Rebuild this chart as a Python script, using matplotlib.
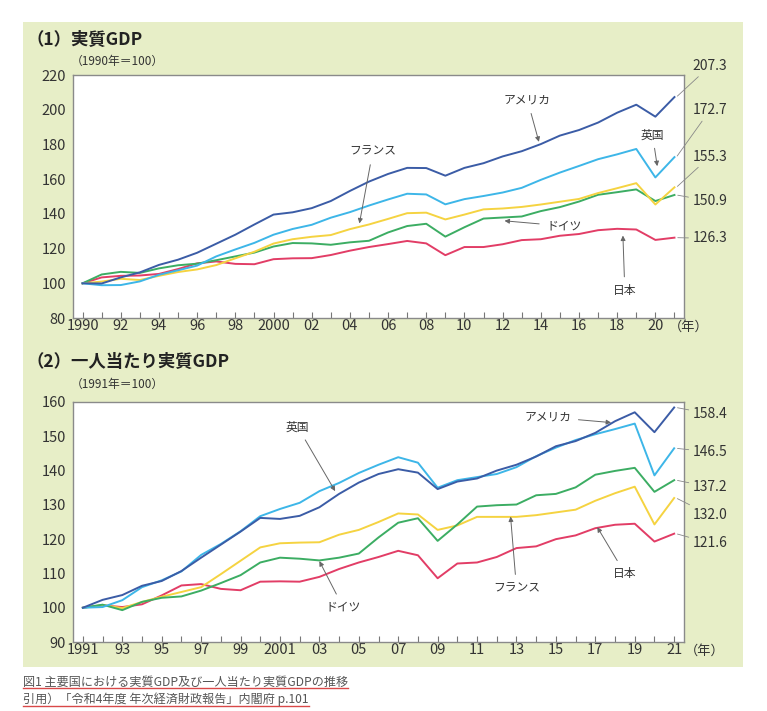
import numpy as np
import matplotlib
matplotlib.use("Agg")
from matplotlib import pyplot as plt
from matplotlib.patches import Rectangle
from matplotlib.lines import Line2D
import matplotlib.transforms as mtransforms

plt.rcParams['font.family'] = ['Noto Sans CJK JP', 'DejaVu Sans']

# (1) real GDP, 1990 = 100
years1 = list(range(1990, 2022))
usa1 = [100, 99.9, 103.4, 106.3, 110.6, 113.6, 117.6, 122.8, 128.0, 133.9, 139.6, 140.9,
        143.3, 147.4, 153.2, 158.6, 163.0, 166.5, 166.4, 162.0, 166.5, 169.2, 173.1, 176.1,
        180.2, 185.1, 188.3, 192.6, 198.3, 202.9, 196.0, 207.3]
uk1 = [100, 98.9, 99.0, 101.1, 104.9, 107.5, 110.2, 115.5, 119.5, 123.3, 128.0, 131.3,
       133.7, 137.8, 141.0, 144.8, 148.3, 151.6, 151.2, 145.5, 148.5, 150.3, 152.3, 155.0,
       159.6, 163.8, 167.6, 171.5, 174.3, 177.4, 161.0, 172.7]
fra1 = [100, 101.0, 102.6, 101.9, 104.3, 106.5, 108.0, 110.5, 114.4, 118.2, 122.9, 125.4,
        126.8, 127.8, 131.2, 133.9, 137.1, 140.4, 140.7, 136.8, 139.6, 142.6, 143.1, 144.0,
        145.4, 147.0, 148.6, 152.0, 154.8, 157.7, 145.4, 155.3]
ger1 = [100, 105.1, 106.6, 106.0, 108.6, 110.4, 111.3, 113.3, 115.5, 117.7, 121.2, 123.2,
        123.0, 122.2, 123.6, 124.5, 129.3, 133.0, 134.3, 126.9, 132.3, 137.3, 137.9, 138.5,
        141.6, 143.9, 147.1, 151.0, 152.5, 154.1, 147.4, 150.9]
jpn1 = [100, 103.4, 104.3, 104.5, 105.4, 108.2, 111.5, 112.6, 111.2, 111.0, 113.9, 114.4,
        114.5, 116.3, 118.8, 120.9, 122.6, 124.4, 123.0, 116.2, 120.9, 120.9, 122.5, 124.9,
        125.4, 127.4, 128.4, 130.6, 131.4, 131.0, 125.0, 126.3]
xlab1 = ['1990', '92', '94', '96', '98', '2000', '02', '04', '06', '08', '10', '12',
         '14', '16', '18', '20']

# (2) real GDP per capita, 1991 = 100
years2 = list(range(1991, 2022))
usa2 = [100, 102.3, 103.7, 106.4, 107.8, 110.7, 114.6, 118.4, 122.2, 126.2, 125.9, 126.8,
        129.3, 133.2, 136.5, 139.0, 140.4, 139.4, 134.6, 136.8, 137.7, 140.0, 141.7, 144.1,
        147.1, 148.6, 151.0, 154.4, 157.0, 151.2, 158.4]
uk2 = [100, 100.2, 102.2, 106.0, 108.0, 110.6, 115.4, 118.6, 122.3, 126.7, 128.8, 130.6,
       134.0, 136.4, 139.3, 141.7, 143.9, 142.3, 135.0, 137.2, 138.1, 139.0, 141.0, 144.2,
       146.7, 148.9, 150.6, 152.1, 153.7, 138.6, 146.5]
fra2 = [100, 100.8, 99.9, 101.7, 103.2, 104.6, 106.0, 109.8, 113.7, 117.6, 118.8, 119.0,
        119.1, 121.3, 122.7, 125.0, 127.5, 127.2, 122.7, 124.0, 126.5, 126.5, 126.5, 127.0,
        127.8, 128.6, 131.2, 133.4, 135.3, 124.3, 132.0]
ger2 = [100, 100.9, 99.3, 101.7, 102.9, 103.3, 105.0, 107.2, 109.5, 113.2, 114.6, 114.3,
        113.8, 114.6, 115.8, 120.5, 124.8, 126.1, 119.5, 124.3, 129.5, 129.9, 130.1, 132.8,
        133.2, 135.1, 138.8, 139.9, 140.8, 133.8, 137.2]
jpn2 = [100, 100.7, 100.2, 101.0, 103.6, 106.5, 106.9, 105.5, 105.1, 107.6, 107.7, 107.6,
        109.0, 111.3, 113.2, 114.8, 116.6, 115.3, 108.6, 112.9, 113.2, 114.8, 117.4, 117.9,
        120.0, 121.1, 123.2, 124.2, 124.5, 119.3, 121.6]
xlab2 = ['1991', '93', '95', '97', '99', '2001', '03', '05', '07', '09', '11', '13',
         '15', '17', '19', '21']

c_usa = '#3b5ca6'
c_uk = '#3db6e8'
c_fra = '#f5d341'
c_ger = '#3cad63'
c_jpn = '#e23d66'
txt = '#333333'
grey = '#777777'

fig = plt.figure(figsize=(7.67, 7.11), dpi=100)
fig.patches.append(Rectangle((0.030, 0.062), 0.9387, 0.9072, transform=fig.transFigure,
                             facecolor='#e7eec7', edgecolor='none', zorder=-10))

ax1 = fig.add_axes([0.0952, 0.5527, 0.7966, 0.3418])
ax2 = fig.add_axes([0.0952, 0.0970, 0.7966, 0.3376])


def style(ax, years, labels, ylim, step):
    ax.set_xlim(years[0] - 0.5, years[-1] + 0.5)
    ax.set_ylim(*ylim)
    ax.set_xticks(years)
    shown = []
    for i, y in enumerate(years):
        shown.append(labels[i // 2] if i % 2 == 0 else '')
    ax.set_xticklabels(shown)
    ax.set_yticks(np.arange(ylim[0], ylim[1] + 1, step))
    ax.tick_params(axis='x', direction='in', length=4, color=grey, labelsize=10.5,
                   labelcolor=txt, pad=1)
    ax.tick_params(axis='y', length=0, labelsize=10.5, labelcolor=txt, pad=5)
    for s in ax.spines.values():
        s.set_color('#8a8a8a')
        s.set_linewidth(1.0)


def endlabel(ax, x, val, ytext, xtext):
    ax.annotate(f'{val:.1f}', xy=(x + 0.1, val), xytext=(xtext, ytext),
                fontsize=10, color=txt, ha='left', va='center', annotation_clip=False,
                arrowprops=dict(arrowstyle='-', color='#888888', lw=0.6,
                                shrinkA=1, shrinkB=1))


def callout(ax, label, xy, xytext, **kw):
    ax.annotate(label, xy=xy, xytext=xytext, fontsize=8.5, color=txt,
                ha='center', va='center',
                arrowprops=dict(arrowstyle='-|>', color='#666666', lw=0.7,
                                mutation_scale=7, shrinkA=3, shrinkB=0), **kw)


lw = 1.4
for vals, c in [(jpn1, c_jpn), (ger1, c_ger), (fra1, c_fra), (uk1, c_uk), (usa1, c_usa)]:
    ax1.plot(years1, vals, color=c, lw=lw)
style(ax1, years1, xlab1, (80, 220), 20)

endlabel(ax1, years1[-1], usa1[-1], 225.2, 2021.95)
endlabel(ax1, years1[-1], uk1[-1], 199.7, 2021.95)
endlabel(ax1, years1[-1], fra1[-1], 173.0, 2021.95)
endlabel(ax1, years1[-1], ger1[-1], 147.4, 2021.95)
endlabel(ax1, years1[-1], jpn1[-1], 125.9, 2021.95)

callout(ax1, 'アメリカ', (2013.9, 181.5), (2013.3, 205.5))
callout(ax1, '英国', (2020.1, 167.5), (2019.85, 185.5))
callout(ax1, 'フランス', (2004.5, 134.5), (2005.2, 176.0))
callout(ax1, 'ドイツ', (2012.1, 136.0), (2015.2, 133.0))
callout(ax1, '日本', (2018.3, 127.5), (2018.4, 96.0))

for vals, c in [(jpn2, c_jpn), (fra2, c_fra), (ger2, c_ger), (uk2, c_uk), (usa2, c_usa)]:
    ax2.plot(years2, vals, color=c, lw=lw)
style(ax2, years2, xlab2, (90, 160), 10)

endlabel(ax2, years2[-1], usa2[-1], 156.5, 2021.95)
endlabel(ax2, years2[-1], uk2[-1], 145.4, 2021.95)
endlabel(ax2, years2[-1], ger2[-1], 135.2, 2021.95)
endlabel(ax2, years2[-1], fra2[-1], 127.0, 2021.95)
endlabel(ax2, years2[-1], jpn2[-1], 118.8, 2021.95)

callout(ax2, '英国', (2003.8, 134.0), (2001.9, 152.7))
callout(ax2, 'ドイツ', (2003.0, 113.6), (2004.2, 100.2))
callout(ax2, 'アメリカ', (2017.8, 154.0), (2014.6, 155.6))
callout(ax2, 'フランス', (2012.7, 126.6), (2013.0, 105.8))
callout(ax2, '日本', (2017.1, 123.5), (2018.5, 110.0))

# (年) after last tick label
for ax, xpos in [(ax1, 2020.7), (ax2, 2021.55)]:
    tr = mtransforms.blended_transform_factory(ax.transData, ax.transAxes)
    ax.text(xpos, -0.012, '（年）', transform=tr, ha='left', va='top',
            fontsize=9.5, color=txt, clip_on=False)

fig.text(0.034, 0.944, '（1）実質GDP', fontsize=12.5, fontweight='bold', color='#222222',
         va='center', ha='left')
fig.text(0.092, 0.914, '（1990年＝100）', fontsize=8.5, color=txt, va='center', ha='left')
fig.text(0.034, 0.491, '（2）一人当たり実質GDP', fontsize=12.5, fontweight='bold',
         color='#222222', va='center', ha='left')
fig.text(0.092, 0.459, '（1991年＝100）', fontsize=8.5, color=txt, va='center', ha='left')

cap1 = fig.text(0.030, 0.040, '図1 主要国における実質GDP及び一人当たり実質GDPの推移',
                fontsize=8.7, color='#555555', va='center', ha='left')
cap2 = fig.text(0.030, 0.016, '引用）「令和4年度 年次経済財政報告」内閣府 p.101',
                fontsize=8.7, color='#555555', va='center', ha='left')

fig.canvas.draw()
r = fig.canvas.get_renderer()
for t in (cap1, cap2):
    bb = t.get_window_extent(r).transformed(fig.transFigure.inverted())
    fig.add_artist(Line2D([bb.x0, bb.x1], [bb.y0 + 0.001, bb.y0 + 0.001],
                          transform=fig.transFigure, color='#d94848', lw=1.0))

fig.savefig('out.png', dpi=100, facecolor='white')
